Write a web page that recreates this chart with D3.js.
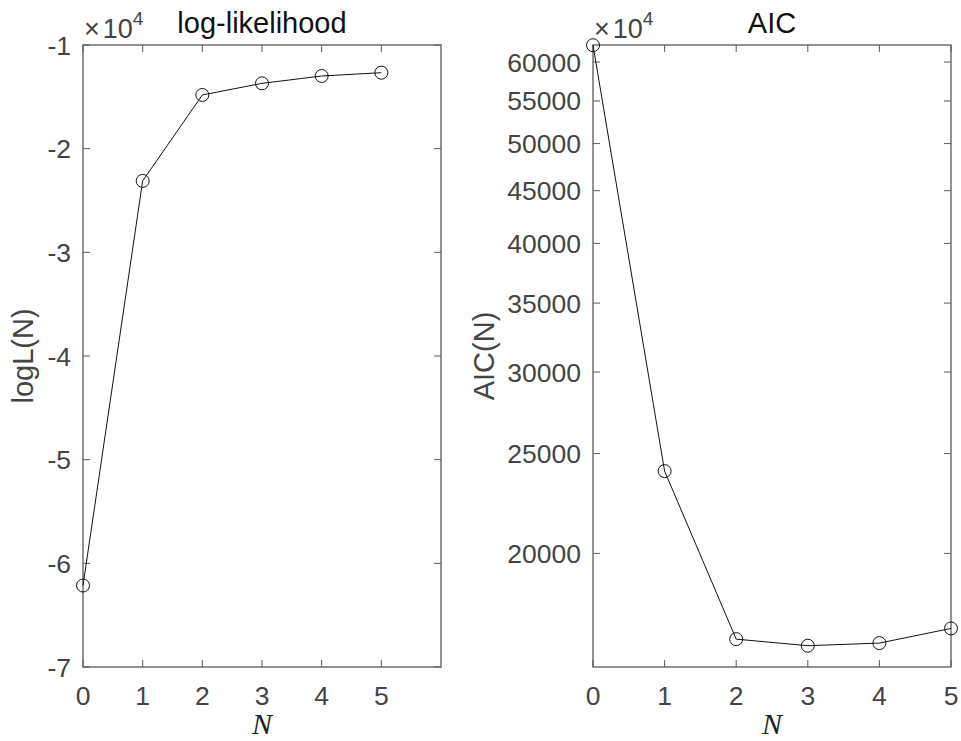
<!DOCTYPE html>
<html>
<head>
<meta charset="utf-8">
<script src="https://cdn.jsdelivr.net/npm/d3@7.9.0/dist/d3.min.js"></script>
<style>
  html, body { margin: 0; padding: 0; background: #fff; }
  svg { display: block; font-family: "Liberation Sans", Arial, sans-serif; }
</style>
</head>
<body>
<svg id="chart" width="961" height="741"></svg>
<script>
// values
const N = [0, 1, 2, 3, 4, 5];
const logL = [-62140, -23110, -14820, -13700, -12990, -12670];
const aic = [62300, 24040, 16510, 16270, 16365, 16910];
const logLTicks = [-70000, -60000, -50000, -40000, -30000, -20000, -10000];
const aicTicks = [20000, 25000, 30000, 35000, 40000, 45000, 50000, 55000, 60000];
const nTicks = [0, 1, 2, 3, 4, 5];

const svg = d3.select("#chart");
const axisColor = "#5a5a5a";
const textColor = "#444";
const tickLen = 7;

function drawPanel(opt) {
  const g = svg.append("g");
  const x = opt.x, y = opt.y;
  const [x0, x1] = x.range();
  const [y0, y1] = y.range(); // y0 bottom, y1 top

  // box
  g.append("rect")
    .attr("x", x0).attr("y", y1)
    .attr("width", x1 - x0).attr("height", y0 - y1)
    .attr("fill", "none").attr("stroke", axisColor).attr("stroke-width", 1.3);

  // x ticks (bottom + top, inward)
  nTicks.forEach(t => {
    const px = x(t);
    g.append("line").attr("x1", px).attr("x2", px).attr("y1", y0).attr("y2", y0 - tickLen)
      .attr("stroke", axisColor);
    g.append("line").attr("x1", px).attr("x2", px).attr("y1", y1).attr("y2", y1 + tickLen)
      .attr("stroke", axisColor);
    g.append("text").attr("x", px).attr("y", 705)
      .attr("text-anchor", "middle").attr("font-size", 26.5).attr("fill", textColor)
      .text(t);
  });

  // y ticks (left + right)
  opt.yTicks.forEach(t => {
    const py = y(t);
    g.append("line").attr("x1", x0).attr("x2", x0 + tickLen).attr("y1", py).attr("y2", py)
      .attr("stroke", axisColor);
    g.append("line").attr("x1", x1).attr("x2", x1 - tickLen).attr("y1", py).attr("y2", py)
      .attr("stroke", axisColor);
    g.append("text").attr("x", x0 - 12).attr("y", py).attr("dy", "0.36em")
      .attr("text-anchor", "end").attr("font-size", 26.5).attr("fill", textColor)
      .text(opt.yFormat(t));
  });

  // line + circle markers
  const pts = N.map((n, i) => [x(n), y(opt.values[i])]);
  g.append("path")
    .attr("d", d3.line()(pts))
    .attr("fill", "none").attr("stroke", "#111").attr("stroke-width", 1);
  g.selectAll("circle.m").data(pts).enter().append("circle")
    .attr("class", "m")
    .attr("cx", d => d[0]).attr("cy", d => d[1]).attr("r", 6.5)
    .attr("fill", "none").attr("stroke", "#111").attr("stroke-width", 1);

  // title
  g.append("text").attr("x", (x0 + x1) / 2).attr("y", 33)
    .attr("text-anchor", "middle").attr("font-size", 29).attr("fill", "#111")
    .text(opt.title);

  // exponent label
  const ex = g.append("text").attr("x", opt.expX).attr("y", 38)
    .attr("font-size", 27).attr("fill", textColor);
  ex.append("tspan").text("\u00d7");
  ex.append("tspan").attr("dx", 3).text("10");
  ex.append("tspan").attr("dy", -13).attr("font-size", 19).text("4");

  // x label
  g.append("text").attr("x", (x0 + x1) / 2).attr("y", 734)
    .attr("text-anchor", "middle").attr("font-size", 30)
    .attr("font-family", "'Liberation Serif', 'DejaVu Serif', serif")
    .attr("font-style", "italic").attr("fill", "#222")
    .text("N");

  // y label
  g.append("text")
    .attr("transform", `translate(${opt.ylabX},${(y0 + y1) / 2}) rotate(-90)`)
    .attr("text-anchor", "middle").attr("font-size", 29).attr("fill", textColor)
    .text(opt.ylabel);
}

drawPanel({
  x: d3.scaleLinear().domain([0, 6]).range([83, 441]),
  y: d3.scaleLinear().domain([-70000, -10000]).range([667, 45]),
  values: logL,
  yTicks: logLTicks,
  yFormat: v => String(v / 10000),
  title: "log-likelihood",
  ylabel: "logL(N)",
  ylabX: 33,
  expX: 84
});

drawPanel({
  x: d3.scaleLinear().domain([0, 5]).range([593, 951]),
  y: d3.scaleLog().domain([15513, 62330]).range([667, 45]),
  values: aic,
  yTicks: aicTicks,
  yFormat: v => String(v),
  title: "AIC",
  ylabel: "AIC(N)",
  ylabX: 494,
  expX: 594
});
</script>
</body>
</html>
